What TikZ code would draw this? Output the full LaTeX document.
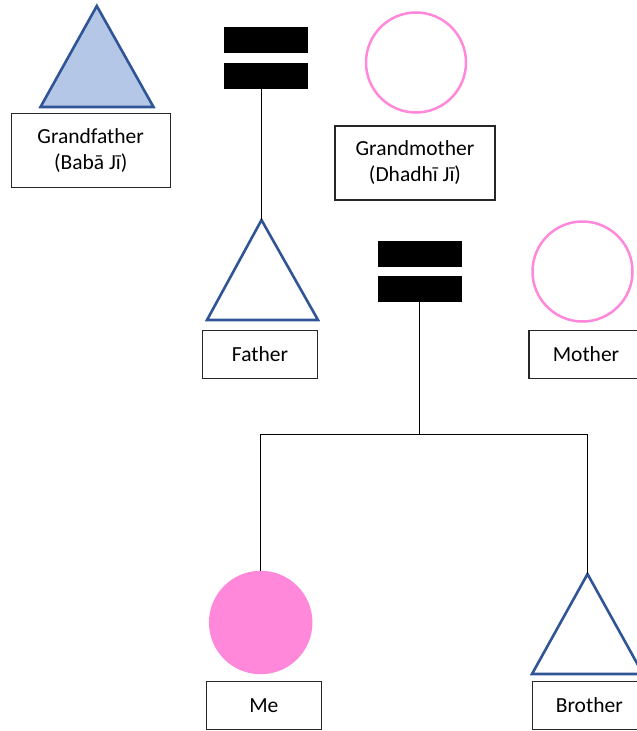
\documentclass[tikz,border=0pt]{standalone}
\usepackage{fontspec}
\setmainfont{Carlito}
\definecolor{tblue}{HTML}{2F5597}
\definecolor{tfill}{HTML}{B4C7E7}
\definecolor{tpink}{HTML}{FF88DA}
\begin{document}
\begin{tikzpicture}[x=1pt,y=-1pt,
  lbl/.style={draw=black!85, line width=1.1pt, rectangle, inner sep=0pt,
    font=\fontsize{21.5}{26}\selectfont, align=center},
  bar/.style={fill=black, draw=none, rectangle, inner sep=0pt,
    minimum width=84pt, minimum height=26pt},
  tri/.style={draw=tblue, line width=2.6pt, line join=miter},
  ring/.style={circle, draw=tpink, line width=2.5pt, inner sep=0pt, minimum size=100pt},
  conn/.style={draw=black, line width=1.1pt}]
\useasboundingbox (0,0) rectangle (637,731);
\begin{scope}
\clip (0,0) rectangle (637,731);
% Grandfather
\filldraw[tri, fill=tfill] (40.5,107) -- (96.8,6) coordinate (gfA) -- (153.5,107) -- cycle;
\node[lbl, minimum width=159pt, minimum height=74pt] (gfbox) at (90.7,150.5) {Grandfather\\(Babā Jī)};
% Marriage 1
\node[bar] (m1t) at (266,40) {};
\node[bar] (m1b) at (266,75.5) {};
% Grandmother
\node[ring] (gm) at (416,62.5) {};
\node[lbl, minimum width=160pt, minimum height=74pt] (gmbox) at (415,163) {Grandmother\\(Dhadhī Jī)};
% Father
\draw[tri] (207,320) -- (261.5,220) coordinate (fA) -- (318,320) -- cycle;
\node[lbl, minimum width=114.5pt, minimum height=47.5pt] (fbox) at (260,354.5) {Father};
\draw[conn] (fA |- m1b.south) -- (fA);
% Marriage 2
\node[bar] (m2t) at (420,254) {};
\node[bar] (m2b) at (420,289.2) {};
% Mother
\node[ring] (mo) at (582.5,271.5) {};
\node[lbl, minimum width=114pt, minimum height=47.5pt] (mobox) at (586,354.5) {Mother};
% Me
\node[circle, fill=tpink, draw=none, inner sep=0pt, minimum size=103.5pt] (me) at (260.7,622.5) {};
\node[lbl, minimum width=114.5pt, minimum height=47.5pt] (mebox) at (263.8,705.5) {Me};
% Brother
\draw[tri] (532,674) -- (587.5,574) coordinate (brA) -- (643,674) -- cycle;
\node[lbl, minimum width=114pt, minimum height=47.5pt] (brbox) at (589.3,705.5) {Brother};
% Sibship
\coordinate (sib) at (419.5,434.5);
\draw[conn] (sib |- m2b.south) -- (sib);
\draw[conn] (me.north) -- (me.north |- sib) -- (brA |- sib) -- (brA);
\end{scope}
\end{tikzpicture}
\end{document}
